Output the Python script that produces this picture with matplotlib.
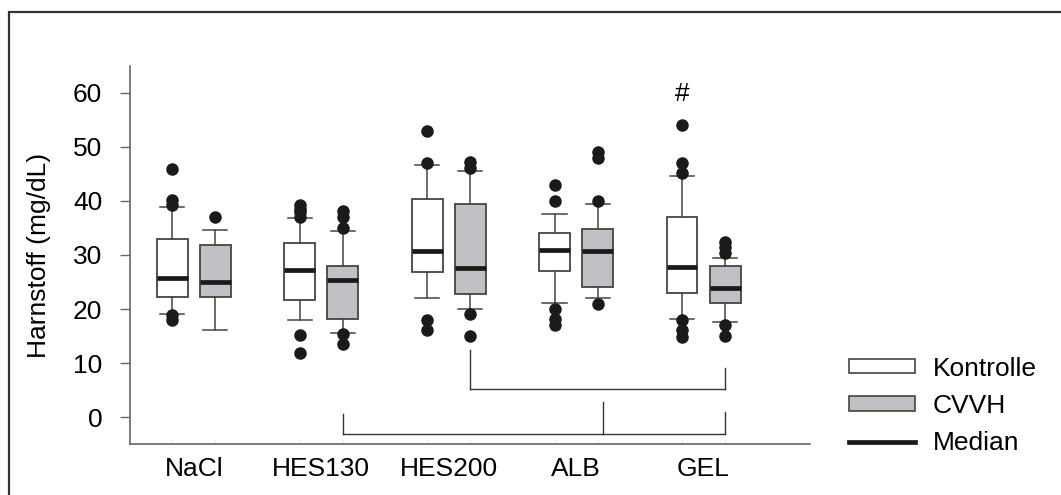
import matplotlib
matplotlib.use('Agg')
import matplotlib.pyplot as plt
from matplotlib.patches import Patch, Rectangle
from matplotlib.lines import Line2D

plt.rcParams['font.family'] = ['Liberation Sans', 'DejaVu Sans']

groups = ['NaCl', 'HES130', 'HES200', 'ALB', 'GEL']

# Kontrolle
k_q1 = [22.2, 21.6, 26.9, 27.1, 23.0]
k_med = [25.8, 27.3, 30.7, 31.0, 27.7]
k_q3 = [33.0, 32.2, 40.3, 34.0, 37.0]
k_lo = [19.1, 18.0, 22.0, 21.2, 18.1]
k_hi = [38.9, 36.9, 46.7, 37.6, 44.7]
k_fliers = [
    [46.0, 40.1, 39.3, 18.8, 17.9],
    [39.2, 38.6, 38.0, 37.0, 15.1, 11.9],
    [53.0, 47.0, 18.0, 16.1],
    [43.0, 40.0, 20.0, 18.2, 17.0],
    [54.0, 47.0, 45.1, 18.0, 16.1, 14.9],
]

# CVVH
c_q1 = [22.2, 18.1, 22.8, 24.0, 21.1]
c_med = [25.0, 25.4, 27.6, 30.7, 23.9]
c_q3 = [31.9, 28.0, 39.4, 34.9, 28.0]
c_lo = [16.1, 15.6, 20.0, 22.0, 17.6]
c_hi = [34.6, 34.5, 45.5, 39.4, 29.4]
c_fliers = [
    [37.0],
    [38.1, 37.0, 35.0, 15.3, 13.6],
    [47.2, 46.2, 19.0, 15.0],
    [49.1, 48.0, 40.0, 21.0],
    [32.4, 31.5, 30.4, 17.0, 15.0],
]

# significance brackets: (x positions of legs, leg tops, bar level)
upper_legs = [3.169, 5.169]
upper_tops = [12.5, 9.0]
upper_bar = 5.25
lower_legs = [2.169, 4.21, 5.169]
lower_tops = [0.5, 2.8, 0.9]
lower_bar = -3.1

offset = 0.169
box_w = 0.243
fs = 19


def stats(q1, med, q3, lo, hi, fl):
    return [dict(q1=a, med=m, q3=b, whislo=l, whishi=h, fliers=f)
            for a, m, b, l, h, f in zip(q1, med, q3, lo, hi, fl)]


fig = plt.figure(figsize=(10.61, 4.95), dpi=100)
ax = fig.add_axes([0.1225, 0.103, 0.6409, 0.7637])

edge = '#444444'
common = dict(widths=box_w, capwidths=0.19, patch_artist=True,
              whiskerprops=dict(color=edge, lw=1.1),
              capprops=dict(color=edge, lw=1.1),
              medianprops=dict(color='#1a1a1a', lw=3.4, solid_capstyle='butt'),
              flierprops=dict(marker='o', markerfacecolor='#1a1a1a',
                              markeredgecolor='#1a1a1a', markersize=8))

pos_k = [i + 1 - offset for i in range(len(groups))]
pos_c = [i + 1 + offset for i in range(len(groups))]

ax.bxp(stats(k_q1, k_med, k_q3, k_lo, k_hi, k_fliers), positions=pos_k,
       boxprops=dict(facecolor='white', edgecolor=edge, lw=1.3), **common)
ax.bxp(stats(c_q1, c_med, c_q3, c_lo, c_hi, c_fliers), positions=pos_c,
       boxprops=dict(facecolor='#c0c1c5', edgecolor=edge, lw=1.3), **common)

# brackets
bc = '#333333'
ax.plot([upper_legs[0], upper_legs[1]], [upper_bar, upper_bar], color=bc, lw=1)
for x, t in zip(upper_legs, upper_tops):
    ax.plot([x, x], [upper_bar, t], color=bc, lw=1)
ax.plot([lower_legs[0], lower_legs[-1]], [lower_bar, lower_bar], color=bc, lw=1)
for x, t in zip(lower_legs, lower_tops):
    ax.plot([x, x], [lower_bar, t], color=bc, lw=1)

ax.text(pos_k[4], 59.9, '#', ha='center', va='center', fontsize=fs)

ax.set_xlim(0.5, 5.835)
ax.set_ylim(-5, 65)
ax.set_yticks(range(0, 61, 10))
ax.set_xticks(range(1, 6))
ax.set_xticklabels(groups)
ax.set_xticks(pos_k + pos_c, minor=True)
ax.tick_params(axis='x', which='major', length=0, pad=9, labelsize=fs)
ax.tick_params(axis='x', which='minor', direction='in', length=3,
               color='#dddddd')
ax.tick_params(axis='y', length=7, width=1, color='#666666', pad=13,
               labelsize=fs)
for s in ['top', 'right']:
    ax.spines[s].set_visible(False)
for s in ['left', 'bottom']:
    ax.spines[s].set_color('#666666')
    ax.spines[s].set_linewidth(1.2)
ax.set_ylabel('Harnstoff (mg/dL)', fontsize=fs, labelpad=16)

handles = [Patch(facecolor='white', edgecolor=edge, lw=1.2),
           Patch(facecolor='#c0c1c5', edgecolor=edge, lw=1.2),
           Line2D([], [], color='#1a1a1a', lw=3.4)]
fig.legend(handles, ['Kontrolle', 'CVVH', 'Median'], loc='upper left',
           bbox_to_anchor=(0.788, 0.306), frameon=False, fontsize=fs,
           borderpad=0, handlelength=2.5, handleheight=0.45,
           handletextpad=0.65, labelspacing=0.5)

# outer frame
fig.add_artist(Rectangle((9 / 1061, -0.1), 1.2, 1.1 - 12 / 495,
                         transform=fig.transFigure, fill=False,
                         edgecolor='#333333', lw=1.6))

fig.savefig('out.png', dpi=100)
